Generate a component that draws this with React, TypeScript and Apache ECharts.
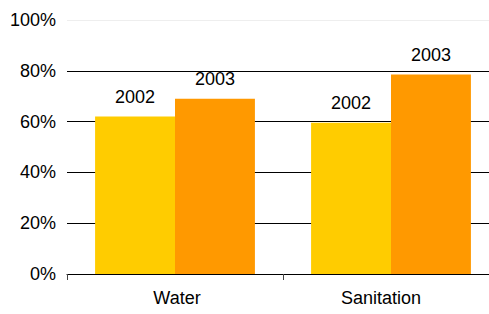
import React, { useEffect, useRef } from "react";
import * as echarts from "echarts";

const categories = ["Water", "Sanitation"];
const series2002 = [62, 59.5];
const series2003 = [69, 78.5];
const yTicks = [0, 20, 40, 60, 80, 100];

export default function App() {
  const ref = useRef<HTMLDivElement>(null);
  useEffect(() => {
    if (!ref.current) return;
    const chart = echarts.init(ref.current, null, { renderer: "svg" });
    const font = "'Liberation Sans', Arial, sans-serif";
    const labelStyle = (name: string) => ({
      show: true,
      position: "top" as const,
      distance: 11,
      formatter: name,
      color: "#000",
      fontSize: 18,
      fontFamily: font,
    });
    const catPadding = [
      [0, 0, 0, 4],
      [0, 20, 0, 0],
    ];
    chart.setOption({
      animation: false,
      backgroundColor: "#fff",
      grid: { left: 67, top: 20, right: 11, bottom: 40, containLabel: false },
      xAxis: {
        type: "category",
        data: categories.map((c, i) => ({ value: c, textStyle: { padding: catPadding[i] } })),
        axisLine: { show: true, lineStyle: { color: "#000", width: 1 } },
        axisTick: { show: true, length: 6, lineStyle: { color: "#444" } },
        axisLabel: { color: "#000", fontSize: 18, fontFamily: font, margin: 15 },
        splitLine: { show: false },
      },
      yAxis: {
        type: "value",
        min: yTicks[0],
        max: yTicks[yTicks.length - 1],
        interval: 20,
        axisLine: { show: false },
        axisTick: { show: false },
        axisLabel: {
          color: "#000",
          fontSize: 18,
          fontFamily: font,
          margin: 11,
          formatter: (v: number) => v + "%",
        },
        splitLine: {
          show: true,
          lineStyle: { color: ["#000", "#000", "#000", "#000", "#000", "#eeeeee"], width: 1 },
        },
      },
      series: [
        {
          type: "bar",
          data: series2002,
          itemStyle: { color: "#FFCC00" },
          barGap: "0%",
          barCategoryGap: "26%",
          label: labelStyle("2002"),
        },
        {
          type: "bar",
          data: series2003,
          itemStyle: { color: "#FF9900" },
          barGap: "0%",
          barCategoryGap: "26%",
          label: labelStyle("2003"),
        },
      ],
    });
    return () => chart.dispose();
  }, []);
  return (
    <div
      style={{
        position: "fixed",
        left: 0,
        top: 0,
        width: 489,
        height: 314,
        overflow: "hidden",
        background: "#fff",
      }}
    >
      <div ref={ref} style={{ width: 510, height: 314 }} />
    </div>
  );
}
